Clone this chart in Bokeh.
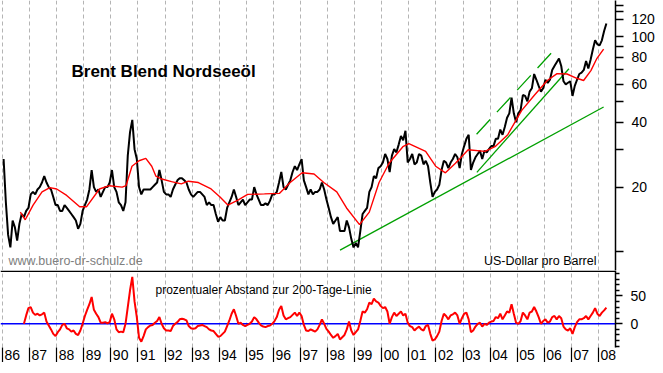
from bokeh.plotting import figure
from bokeh.layouts import column
from bokeh.models import (Range1d, FixedTicker, BasicTickFormatter, Label, Span,
                          LinearAxis, CustomJSTickFormatter)
from bokeh.embed import file_html
from bokeh.resources import INLINE

# ---------------- data ----------------
years = list(range(1986, 2009))

# Brent, US$ per barrel, one value per month from Jan 1986
price_start_year = 1986
brent_monthly = [
    27, 17, 12, 10.5, 14, 13, 11.3, 13.5, 15, 14.5, 15.5, 16,          # 1986
    18.5, 19, 18.5, 19.5, 20, 21, 22.5, 21, 20, 19.5, 18, 16.5,        # 1987
    16.5, 15.5, 15.5, 16.5, 16, 15.5, 15, 14.5, 14, 12.8, 13.5, 15.5,  # 1988
    16.5, 17.5, 19.5, 24, 20, 19, 19.5, 18, 19, 20, 20, 21,            # 1989
    24, 20, 19, 17, 16.5, 15.5, 17, 28, 36, 41, 30, 27,                # 1990
    20, 18.5, 19.5, 19.5, 19.5, 19.5, 20, 20.5, 21, 24, 21.5, 19,      # 1991
    18.5, 18.5, 18, 19.5, 20.5, 21.5, 22, 22, 21.5, 21, 19.5, 18.5,    # 1992
    18, 18.5, 19, 19, 18.5, 18, 16.5, 17, 16.5, 16.5, 15, 13.8,        # 1993
    14.5, 14, 14, 16, 17, 18, 19.5, 18, 16.5, 17, 17.5, 16.5,          # 1994
    17, 17.5, 17.5, 20, 18.5, 17.5, 16.5, 16.5, 16.8, 16.5, 17.3, 18.5,  # 1995
    18.5, 19, 21, 23.5, 20, 19.5, 20.5, 21.5, 23.5, 25, 24, 25.5,      # 1996
    27, 21.5, 20, 18.5, 19.5, 18.5, 19, 19, 19.5, 21, 19.5, 17.5,      # 1997
    16, 14.5, 13.5, 14, 14.5, 12.5, 12.5, 12.5, 14, 13, 11.5, 10.5,    # 1998
    11, 10.5, 12.5, 15, 15.5, 16, 19, 20, 22.5, 22, 24.5, 25,          # 1999
    26, 28.5, 27, 23.5, 28, 30, 29, 31.5, 34.5, 33, 36.5, 26,          # 2000
    27, 28.5, 25.5, 26, 28.5, 28, 25.5, 26.5, 25, 21, 18, 19,          # 2001
    19.5, 20.5, 24, 26.5, 26, 24.5, 26, 27, 28.5, 27.5, 24.5, 28.5,    # 2002
    31, 33.5, 35, 24, 26, 27.5, 28.5, 29.5, 27, 29.5, 29, 30,          # 2003
    31, 31, 33.5, 33.5, 37, 35, 38, 42, 44, 52, 44, 40,                # 2004
    44, 45.5, 53.5, 53, 50, 55.5, 57.5, 67, 63, 59, 55.5, 57.5,        # 2005
    63, 61, 63, 70, 73, 76, 79, 73, 62, 60, 61, 62,                    # 2006
    53, 59, 63, 67, 68, 70, 77, 71, 78, 87, 96, 92,                    # 2007
    91, 96, 106, 115,                                                  # 2008
]

# 200-day moving average (red), read at points along the curve
ma_time = [1986.66, 1986.84, 1987.13, 1987.46, 1987.75, 1988.0, 1988.37, 1988.85,
           1989.1, 1989.58, 1989.94, 1990.42, 1990.56, 1990.78, 1991.04, 1991.29,
           1991.51, 1991.66, 1991.88, 1992.24, 1992.6, 1992.86, 1993.23, 1993.7,
           1994.03, 1994.32, 1994.69, 1995.05, 1995.67, 1996.22, 1996.62, 1997.06,
           1997.5, 1997.86, 1998.34, 1998.7, 1999.18, 1999.54, 1999.9, 2000.27,
           2000.78, 2001.0, 2001.62, 2001.99, 2002.35, 2002.72, 2003.19, 2003.81,
           2004.18, 2004.65, 2005.16, 2005.64, 2006.11, 2006.47, 2006.84, 2007.2,
           2007.45, 2007.72, 2007.93, 2008.19]
ma_value = [15.3, 14.1, 16.5, 19.0, 19.9, 19.6, 18.3, 16.2,
            16.2, 19.6, 20.3, 20.0, 20.3, 25.0, 26.5, 27.2,
            25.0, 22.5, 21.8, 21.2, 20.7, 21.3, 21.0, 19.6,
            18.0, 16.5, 17.4, 18.5, 18.6, 18.7, 21.0, 23.3,
            23.0, 21.0, 19.0, 16.0, 13.4, 15.3, 21.0, 25.8,
            30.8, 31.8, 29.3, 25.0, 23.3, 25.8, 29.8, 29.3,
            30.8, 35.0, 45.3, 53.5, 62.5, 67.3, 67.0, 64.0,
            62.5, 69.5, 78.7, 87.4]

# percent distance to the 200-day line, monthly from Oct 1986
dev_start_year, dev_start_month = 1986, 10
dev_monthly = [
    0, 15, 28,                                               # 1986
    30, 20, 16, 18, 15, 17, 20, 4, -3, -10, -18, -22,        # 1987
    -15, -10, -2, 0, -8, -10, -14, -12, -18, -20, -12, 0,    # 1988
    14, 25, 35, 48, 25, 18, 12, 2, 2, 3, 1, 3,               # 1989
    18, 8, -10, -15, -14, -15, 0, 30, 60, 84, 40, 12,        # 1990
    -25, -32, -22, -10, -6, -3, -2, 2, 5, 12, 0, -8,         # 1991
    -12, -12, -13, -4, 0, 3, 8, 9, 8, 6, -4, -8,             # 1992
    -9, -8, -4, -3, -2, -4, -6, -10, -12, -13, -18, -23,     # 1993
    -22, -18, -14, -4, 6, 18, 26, 14, 0, 2, -2, -4,          # 1994
    -2, 0, 4, 12, 8, 2, -3, -5, -6, -4, -3, 0,               # 1995
    5, 12, 25, 32, 15, 8, 10, 12, 16, 20, 14, 20,            # 1996
    14, -2, -12, -13, -10, -12, -14, -10, -2, 8, 0, -9,      # 1997
    -14, -20, -25, -22, -18, -28, -24, -20, -10, 4, -12, -20,  # 1998
    -15, -10, 5, 22, 20, 26, 38, 35, 45, 40, 38, 32,         # 1999
    28, 30, 22, 0, 12, 20, 14, 18, 22, 15, 18, 2,            # 2000
    -4, -6, -12, -8, -5, -10, -12, -4, -2, -18, -30, -28,    # 2001
    -22, -14, 5, 18, 14, 8, 15, 17, 20, 15, 0, 10,           # 2002
    18, 20, 8, -15, -12, -5, 0, 2, -5, 0, -2, 2,             # 2003
    4, 5, 12, 10, 18, 8, 15, 22, 20, 35, 18, 2,              # 2004
    0, 5, 20, 15, 8, 20, 22, 30, 22, 12, 0, 5,               # 2005
    8, 2, 4, 12, 14, 8, 14, 10, -5, -10, -12, -8,            # 2006
    -18, -6, 3, 8, 8, 10, 14, 8, 14, 20, 28, 18,             # 2007
    14, 20, 24, 29,                                          # 2008
]

# green trend lines (start / end)
trend_long_t = [1998.46, 2008.19]
trend_long_v = [10.2, 47.1]
trend_steep_t = [2003.51, 2006.91]
trend_steep_v = [23.4, 70.9]
channel_t = [2003.50, 2006.45]
channel_v = [35.2, 89.0]

# ---------------- derived x positions ----------------
price_t = [price_start_year + (i + 0.5) / 12 for i in range(len(brent_monthly))]
dev_t = [dev_start_year + (dev_start_month - 1 + i + 0.5) / 12 for i in range(len(dev_monthly))]

# ---------------- geometry ----------------
FW = 615          # frame width
HM = 270          # main frame height
HL = 77           # lower panel frame height
RB = 40           # right border
FONT = "Liberation Sans"

X0, X1 = 1985.927, 2008.628
x_range = Range1d(X0, X1)
px_per_year = FW / (X1 - X0)
# year labels sit just right of the year tick: centre of a two-digit label
label_pos = [y + (2 + 7.8) / px_per_year for y in years]

k = 0.559                       # px per percent in lower panel
zero_px = 53.3                  # 0-line, px from top of lower frame
lo_hi = zero_px / k
lo_lo = lo_hi - HL / k
sep_y = lo_hi - 0.75 / k


def style_axis(ax, major_out, minor_out):
    ax.axis_line_color = "black"
    ax.axis_line_width = 1.5
    ax.major_tick_line_color = "black"
    ax.major_tick_line_width = 1.5
    ax.minor_tick_line_color = "black"
    ax.minor_tick_line_width = 1.5
    ax.major_tick_in = 0
    ax.major_tick_out = major_out
    ax.minor_tick_in = 0
    ax.minor_tick_out = minor_out
    ax.major_label_standoff = 8
    ax.major_label_text_font = FONT
    ax.major_label_text_font_size = "14px"
    ax.major_label_text_color = "black"
    ax.formatter = BasicTickFormatter()


# ---------------- main price panel ----------------
p1 = figure(frame_width=FW, frame_height=HM, x_range=x_range,
            y_range=Range1d(8.2, 147), y_axis_type="log",
            y_axis_location="right", x_axis_location=None,
            output_backend="svg", toolbar_location=None,
            min_border_left=0, min_border_top=0, min_border_bottom=0,
            min_border_right=RB, outline_line_color=None,
            background_fill_color="white", border_fill_color="white")
p1.yaxis.ticker = FixedTicker(ticks=[20, 40, 60, 80, 100, 120],
                              minor_ticks=[10, 30, 50, 70, 90, 130, 140])
style_axis(p1.yaxis[0], 8, 8)
p1.ygrid.visible = False
p1.xgrid.ticker = FixedTicker(ticks=years)
p1.xgrid.grid_line_color = "#b4b4b4"
p1.xgrid.grid_line_dash = "4 3"
p1.xgrid.grid_line_width = 1

p1.line(trend_long_t, trend_long_v, color="#00a000", line_width=1.3)
p1.line(trend_steep_t, trend_steep_v, color="#00a000", line_width=1.3)
p1.line(channel_t, channel_v, color="#00a000", line_width=1.3, line_dash="20 10")
p1.line(price_t, brent_monthly, color="black", line_width=2.0)
p1.line(ma_time, ma_value, color="#ff0000", line_width=1.4)

p1.add_layout(Label(x=71, y=HM - 71.2, x_units="screen", y_units="screen",
                    text="Brent Blend Nordseeöl", text_font=FONT,
                    text_font_size="17px", text_font_style="bold",
                    text_color="black", text_baseline="alphabetic"))
p1.add_layout(Label(x=8, y=HM - 260.3, x_units="screen", y_units="screen",
                    text="www.buero-dr-schulz.de", text_font=FONT,
                    text_font_size="12.5px", text_color="#808080",
                    text_baseline="alphabetic"))
p1.add_layout(Label(x=596, y=HM - 260.3, x_units="screen", y_units="screen",
                    text="US-Dollar pro Barrel", text_font=FONT,
                    text_font_size="12.5px", text_color="black",
                    text_align="right", text_baseline="alphabetic"))

# ---------------- lower panel ----------------
p2 = figure(frame_width=FW, frame_height=HL, x_range=x_range,
            y_range=Range1d(lo_lo, lo_hi),
            y_axis_location="right", x_axis_location=None,
            output_backend="svg", toolbar_location=None,
            min_border_left=0, min_border_top=0, min_border_bottom=0,
            min_border_right=RB, outline_line_color=None,
            background_fill_color="white", border_fill_color="white")
p2.ygrid.visible = False
p2.xgrid.ticker = FixedTicker(ticks=years)
p2.xgrid.grid_line_color = "#b4b4b4"
p2.xgrid.grid_line_dash = "4 3"
p2.xgrid.grid_line_width = 1
p2.yaxis.ticker = FixedTicker(ticks=[0, 50],
                              minor_ticks=[-40, -30, -20, -10, 10, 20, 30, 40, 60, 70, 80, 90])
style_axis(p2.yaxis[0], 7, 4)

# year axis: minor ticks are the "|" marks at each new year, labels just right of them
xax = LinearAxis(ticker=FixedTicker(ticks=label_pos, minor_ticks=years),
                 formatter=CustomJSTickFormatter(
                     code="return String(Math.floor(tick) % 100).padStart(2, '0');"),
                 axis_line_color=None,
                 major_tick_line_color=None, major_tick_in=0, major_tick_out=0,
                 minor_tick_line_color="black", minor_tick_line_width=1.2,
                 minor_tick_in=0, minor_tick_out=16,
                 major_label_standoff=-14, major_label_text_font=FONT,
                 major_label_text_font_size="14px", major_label_text_color="black")
p2.add_layout(xax, "below")

p2.add_layout(Span(location=0, dimension="width", line_color="#0000ff", line_width=1.5,
                   level="underlay"))
p2.line(dev_t, dev_monthly, color="#ff0000", line_width=2.0)
p2.add_layout(Span(location=sep_y, dimension="width", line_color="black", line_width=1.5))

p2.add_layout(Label(x=155, y=HL - 19.2, x_units="screen", y_units="screen",
                    text="prozentualer Abstand zur 200-Tage-Linie", text_font=FONT,
                    text_font_size="12px", text_color="black",
                    text_baseline="alphabetic"))

layout = column(p1, p2, spacing=0)
open("out.html", "w").write(file_html(layout, INLINE))
